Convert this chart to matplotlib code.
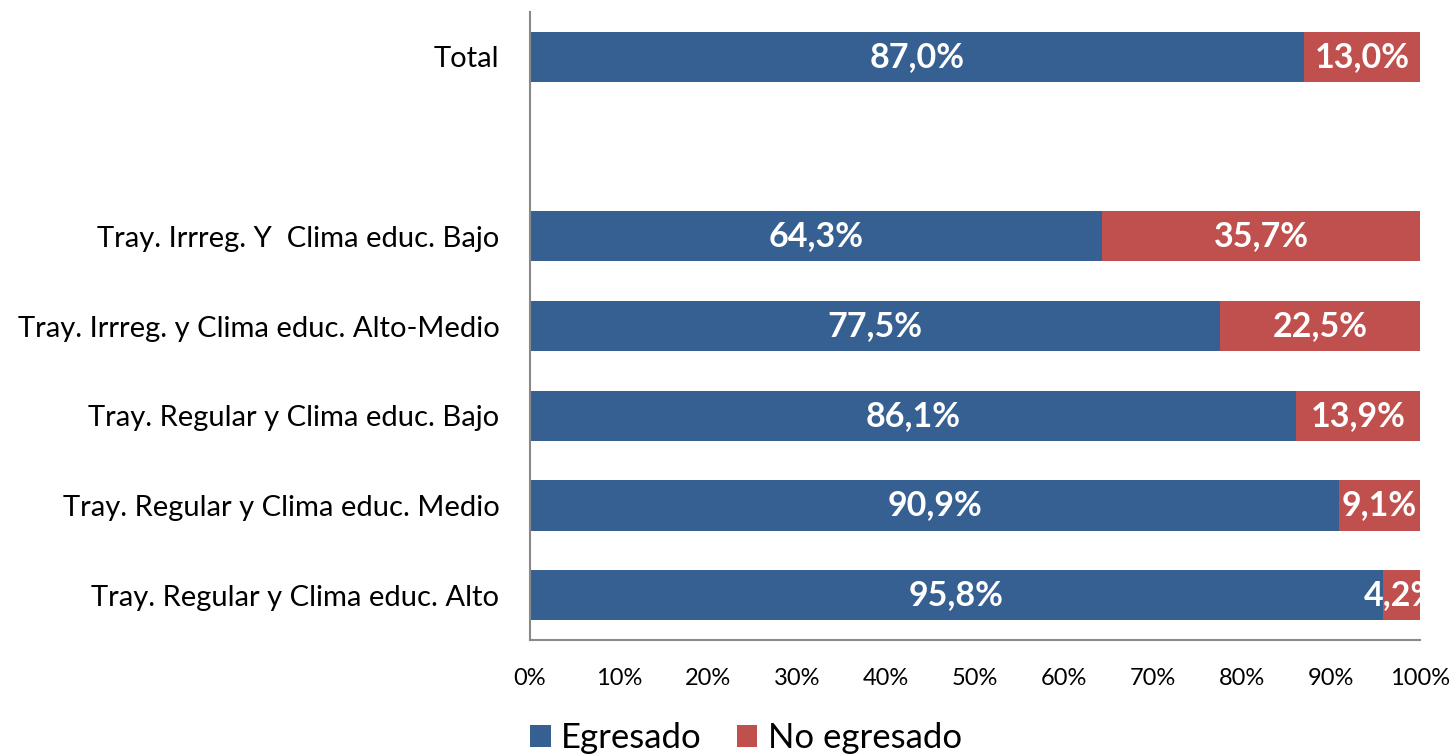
import matplotlib
matplotlib.use("Agg")
import matplotlib.pyplot as plt
import numpy as np

categories = ["Total", "",
              "Tray. Irrreg. Y  Clima educ. Bajo",
              "Tray. Irrreg. y Clima educ. Alto-Medio",
              "Tray. Regular y Clima educ. Bajo",
              "Tray. Regular y Clima educ. Medio",
              "Tray. Regular y Clima educ. Alto"]
egresado = [87.0, None, 64.3, 77.5, 86.1, 90.9, 95.8]
no_egresado = [13.0, None, 35.7, 22.5, 13.9, 9.1, 4.2]
series_names = ["Egresado", "No egresado"]
xticks = list(range(0, 101, 10))

plt.rcParams['font.family'] = ['Lato', 'DejaVu Sans']

fig = plt.figure(figsize=(14.53, 7.55), dpi=100)
ax = fig.add_axes([530/1453, 1-640/755, 890/1453, 628/755])

blue = "#376092"
red = "#C0504D"
pos = np.arange(len(categories))
h = 0.56
for i, (e, n) in enumerate(zip(egresado, no_egresado)):
    if e is None:
        continue
    ax.barh(pos[i], e, height=h, color=blue, label=series_names[0] if i == 0 else None)
    ax.barh(pos[i], n, left=e, height=h, color=red, label=series_names[1] if i == 0 else None)
    ax.text(e/2, pos[i], f"{e:.1f}%".replace(".", ","), ha="center", va="center",
            color="white", fontsize=24.5, fontweight="bold", clip_on=True)
    ax.text(e + n/2, pos[i], f"{n:.1f}%".replace(".", ","), ha="center", va="center",
            color="white", fontsize=24.5, fontweight="bold", clip_on=True)

ax.set_ylim(len(categories) - 0.5, -0.5)
ax.set_xlim(0, 100)
ax.set_yticks(pos)
ax.set_yticklabels(categories, fontsize=21)
ax.set_xticks(xticks)
ax.set_xticklabels([f"{t}%" for t in xticks], fontsize=17)
ax.tick_params(axis="both", length=0)
ax.tick_params(axis="y", pad=22)
ax.tick_params(axis="x", pad=20)
for s in ["top", "right"]:
    ax.spines[s].set_visible(False)
for s in ["left", "bottom"]:
    ax.spines[s].set_color("#898989")
    ax.spines[s].set_linewidth(1.5)

leg = fig.legend(loc="center left", bbox_to_anchor=(516/1453, 1-738/755), ncol=2,
                 frameon=False, fontsize=25, handlelength=0.6, handleheight=0.6,
                 handletextpad=0.3, columnspacing=1.0, borderaxespad=0)

fig.savefig("out.png", dpi=100)
